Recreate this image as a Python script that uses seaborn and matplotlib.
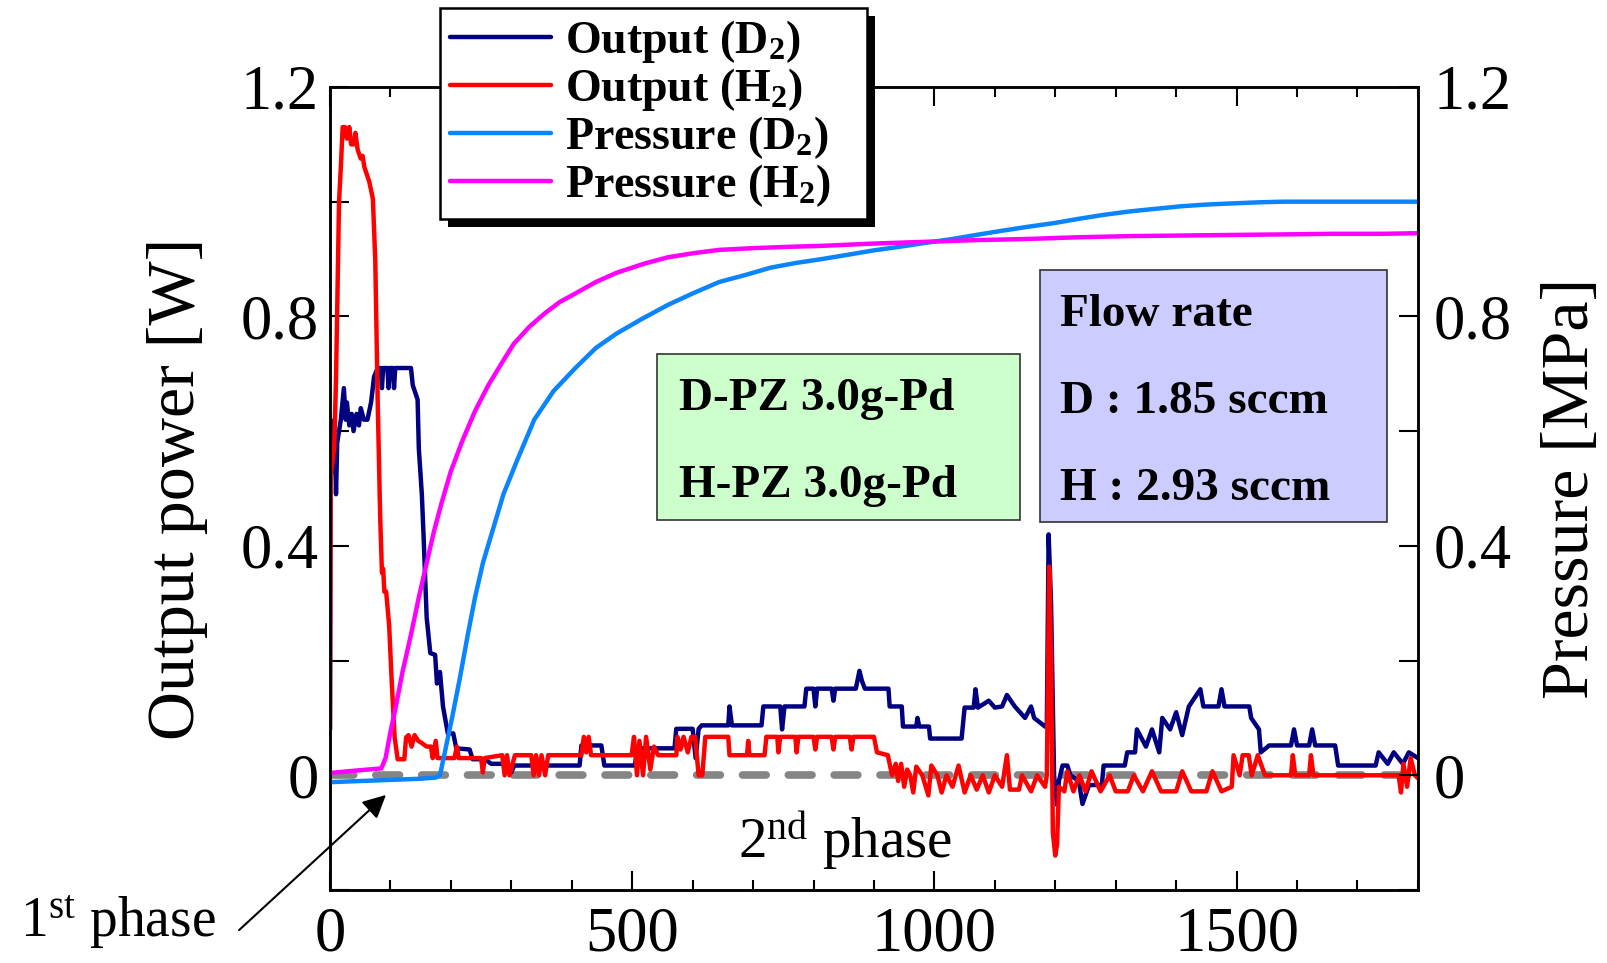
import seaborn as sns
import matplotlib.pyplot as plt
from matplotlib.patches import Rectangle
from matplotlib.transforms import IdentityTransform

# ---- data ----
# output power, D2 run
t_out_d2 = [0, 1, 4, 6, 8, 10, 12, 15, 18, 23, 26, 28, 32, 36, 39, 44, 48, 51, 56, 62, 66, 68, 73, 79, 84, 86, 88,
            95, 97, 99, 104, 106, 108, 134, 137, 145, 147, 152, 155, 160, 166, 174, 177, 182, 187, 195, 204, 209,
            231, 236, 256, 267, 285, 300, 305, 413, 416, 449, 454, 504, 510, 570, 573, 600, 605, 610, 615, 659, 661,
            665, 714, 717, 745, 748, 752, 785, 788, 800, 803, 806, 830, 833, 836, 870, 876, 880, 885, 924, 926, 946,
            948, 970, 972, 975, 991, 993, 1045, 1050, 1065, 1068, 1072, 1090, 1100, 1112, 1120, 1133, 1150, 1160,
            1165, 1183, 1186, 1189, 1193, 1198, 1203, 1206, 1212, 1220, 1225, 1239, 1245, 1256, 1277, 1280, 1315,
            1319, 1332, 1335, 1350, 1360, 1372, 1377, 1390, 1400, 1410, 1421, 1440, 1445, 1470, 1475, 1480, 1521,
            1524, 1537, 1540, 1554, 1590, 1595, 1600, 1620, 1625, 1630, 1663, 1668, 1730, 1735, 1750, 1760, 1775,
            1785, 1800]
p_out_d2 = [0.08, 0.62, 0.60, 0.53, 0.58, 0.49, 0.58, 0.60, 0.62, 0.675, 0.62, 0.65, 0.61, 0.63, 0.60, 0.63, 0.61,
            0.64, 0.62, 0.62, 0.64, 0.65, 0.695, 0.71, 0.71, 0.675, 0.71, 0.71, 0.675, 0.71, 0.71, 0.675, 0.71, 0.71,
            0.68, 0.655, 0.57, 0.49, 0.414, 0.275, 0.213, 0.21, 0.16, 0.18, 0.12, 0.073, 0.073, 0.047, 0.045, 0.028,
            0.028, 0.02, 0.02, 0.005, 0.017, 0.017, 0.052, 0.052, 0.017, 0.017, 0.047, 0.047, 0.081, 0.081, 0.03,
            0.081, 0.087, 0.087, 0.12, 0.087, 0.087, 0.12, 0.12, 0.08, 0.12, 0.12, 0.151, 0.151, 0.12, 0.151, 0.151,
            0.13, 0.151, 0.151, 0.182, 0.165, 0.151, 0.151, 0.12, 0.12, 0.085, 0.085, 0.1, 0.085, 0.085, 0.064,
            0.064, 0.118, 0.118, 0.15, 0.118, 0.13, 0.118, 0.12, 0.14, 0.12, 0.10, 0.12, 0.10, 0.085, 0.085, 0.42,
            0.30, 0.0, -0.052, -0.01, 0.017, 0.017, 0.0, -0.01, -0.05, -0.017, -0.017, 0.017, 0.017, 0.04, 0.04,
            0.08, 0.05, 0.08, 0.04, 0.10, 0.08, 0.11, 0.07, 0.12, 0.15, 0.12, 0.12, 0.15, 0.12, 0.12, 0.10, 0.08,
            0.04, 0.052, 0.052, 0.08, 0.052, 0.052, 0.08, 0.052, 0.052, 0.017, 0.017, 0.04, 0.02, 0.04, 0.02, 0.04,
            0.03]

# output power, H2 run
t_out_h2 = [0, 1, 7, 10, 13, 15, 18, 21, 25, 28, 32, 35, 40, 42, 46, 51, 54, 57, 65, 71, 75, 79, 83, 86, 88, 90, 93,
            98, 102, 107, 112, 123, 126, 130, 135, 140, 146, 151, 160, 167, 170, 175, 178, 206, 210, 213, 250, 253,
            256, 285, 289, 293, 297, 306, 333, 337, 341, 346, 350, 356, 361, 416, 420, 424, 428, 432, 499, 503, 508,
            512, 518, 523, 530, 536, 543, 573, 575, 580, 585, 592, 598, 604, 610, 616, 621, 659, 661, 690, 692, 694,
            719, 722, 740, 742, 745, 770, 772, 775, 800, 803, 806, 830, 833, 836, 860, 863, 866, 900, 905, 923, 930,
            936, 940, 945, 950, 955, 960, 965, 970, 980, 990, 995, 1005, 1012, 1020, 1030, 1040, 1050, 1060, 1070,
            1080, 1090, 1100, 1112, 1120, 1125, 1140, 1145, 1160, 1170, 1183, 1186, 1190, 1193, 1196, 1200, 1203,
            1206, 1215, 1220, 1230, 1240, 1250, 1260, 1275, 1290, 1300, 1320, 1330, 1345, 1360, 1375, 1400, 1410,
            1425, 1450, 1460, 1475, 1492, 1495, 1505, 1510, 1520, 1525, 1535, 1547, 1590, 1593, 1597, 1620, 1623,
            1627, 1668, 1768, 1772, 1776, 1782, 1788, 1795, 1800]
p_out_h2 = [0.08, 0.52, 0.57, 0.69, 0.88, 1.0, 1.06, 1.13, 1.13, 1.11, 1.13, 1.10, 1.10, 1.12, 1.09, 1.075, 1.08,
            1.06, 1.035, 1.005, 0.896, 0.65, 0.454, 0.353, 0.36, 0.32, 0.32, 0.26, 0.167, 0.066, 0.028, 0.028, 0.066,
            0.07, 0.05, 0.07, 0.06, 0.057, 0.05, 0.05, 0.03, 0.06, 0.03, 0.03, 0.05, 0.03, 0.03, 0.005, 0.03, 0.035,
            0.0, 0.035, 0.0, 0.035, 0.035, 0.0, 0.035, 0.0, 0.035, 0.0, 0.035, 0.035, 0.067, 0.04, 0.067, 0.035,
            0.035, 0.067, 0.0, 0.06, 0.0, 0.067, 0.01, 0.05, 0.035, 0.035, 0.067, 0.045, 0.067, 0.04, 0.067, 0.067,
            0.0, 0.0, 0.067, 0.067, 0.035, 0.035, 0.06, 0.035, 0.035, 0.067, 0.067, 0.04, 0.067, 0.067, 0.04, 0.067,
            0.067, 0.045, 0.067, 0.067, 0.045, 0.067, 0.067, 0.045, 0.067, 0.067, 0.04, 0.035, 0.0, 0.02, -0.01,
            0.02, -0.02, 0.01, 0.0, -0.03, 0.015, 0.0, -0.035, 0.017, 0.0, -0.03, 0.0, -0.02, 0.017, -0.03, 0.0,
            -0.025, 0.0, -0.03, 0.0, -0.02, 0.035, -0.025, -0.025, 0.0, -0.028, 0.0, -0.02, 0.0, 0.364, 0.2, -0.1,
            -0.14, -0.12, -0.02, -0.028, 0.007, -0.028, 0.0, -0.028, 0.007, -0.028, 0.0, -0.028, -0.028, 0.0,
            -0.028, 0.007, -0.028, -0.028, 0.007, -0.028, -0.028, 0.007, -0.028, -0.02, 0.035, 0.0, 0.035, 0.035,
            0.0, 0.035, 0.0, 0.0, 0.035, 0.0, 0.0, 0.035, 0.0, 0.0, 0.0, -0.03, 0.02, -0.02, 0.03, 0.0, -0.005]

# pressure, D2 run
t_pr_d2 = [0, 50, 100, 150, 175, 182, 190, 202, 215, 228, 240, 253, 270, 287, 310, 338, 370, 406, 440, 474, 515,
           559, 600, 644, 690, 729, 770, 814, 860, 899, 940, 984, 1030, 1069, 1110, 1153, 1200, 1238, 1280, 1323,
           1370, 1408, 1450, 1493, 1540, 1578, 1620, 1663, 1720, 1800]
pr_d2 = [-0.012, -0.01, -0.008, -0.006, -0.004, 0.0, 0.04, 0.10, 0.17, 0.245, 0.31, 0.37, 0.43, 0.49, 0.55, 0.62,
         0.67, 0.71, 0.745, 0.77, 0.795, 0.82, 0.84, 0.86, 0.873, 0.885, 0.893, 0.90, 0.908, 0.915, 0.921, 0.928,
         0.935, 0.942, 0.949, 0.956, 0.963, 0.97, 0.977, 0.983, 0.988, 0.992, 0.995, 0.997, 0.999, 1.0, 1.0, 1.0,
         1.0, 1.0]

# pressure, H2 run
t_pr_h2 = [0, 40, 85, 92, 100, 109, 120, 134, 147, 160, 172, 185, 200, 219, 240, 262, 285, 304, 330, 355, 380, 406,
           440, 474, 520, 559, 600, 644, 700, 750, 814, 900, 984, 1070, 1153, 1240, 1323, 1410, 1493, 1580, 1660,
           1740, 1800]
pr_h2 = [0.004, 0.008, 0.012, 0.03, 0.075, 0.12, 0.18, 0.245, 0.31, 0.37, 0.425, 0.476, 0.53, 0.583, 0.635, 0.68,
         0.72, 0.752, 0.782, 0.805, 0.825, 0.84, 0.86, 0.876, 0.892, 0.903, 0.91, 0.916, 0.919, 0.921, 0.923,
         0.927, 0.93, 0.933, 0.935, 0.938, 0.94, 0.941, 0.942, 0.943, 0.944, 0.944, 0.945]

xticks = [0, 500, 1000, 1500]
yticks = [0, 0.4, 0.8, 1.2]
ytick_labels = ['0', '0.4', '0.8', '1.2']
series_labels = ['Output (D$_2$)', 'Output (H$_2$)', 'Pressure (D$_2$)', 'Pressure (H$_2$)']
sample_lines = ['D-PZ 3.0g-Pd', 'H-PZ 3.0g-Pd']
flow_lines = ['Flow rate', 'D : 1.85 sccm', 'H : 2.93 sccm']

sns.set_style('ticks')
plt.rcParams['font.family'] = ['Liberation Serif', 'DejaVu Serif']
plt.rcParams['mathtext.fontset'] = 'custom'
plt.rcParams['mathtext.rm'] = 'Liberation Serif'
plt.rcParams['mathtext.default'] = 'regular'
for k in ('text.color', 'axes.labelcolor', 'xtick.color', 'ytick.color'):
    plt.rcParams[k] = 'black'

fig = plt.figure(figsize=(16.08, 9.63), dpi=100)
ax = fig.add_axes([0.2052, 0.0758, 0.6766, 0.8339])
ax2 = ax.twinx()

ax.axhline(0, color='#858585', lw=5.5, dashes=(3.1, 2.9), dash_capstyle='round', zorder=1.5)

line_kw = dict(estimator=None, sort=False, linewidth=3.2)
sns.lineplot(x=t_out_d2, y=p_out_d2, ax=ax, color='#000080', label=series_labels[0], **line_kw)
sns.lineplot(x=t_out_h2, y=p_out_h2, ax=ax, color='#ff0000', label=series_labels[1], **line_kw)
sns.lineplot(x=t_pr_d2, y=pr_d2, ax=ax2, color='#0a84ff', label=series_labels[2], **line_kw)
sns.lineplot(x=t_pr_h2, y=pr_h2, ax=ax2, color='#ff00ff', label=series_labels[3], **line_kw)

handles, labels = [], []
for a in (ax, ax2):
    h, l = a.get_legend_handles_labels()
    handles += h
    labels += l
    if a.get_legend() is not None:
        a.get_legend().remove()

for a in (ax, ax2):
    a.set_xlim(0, 1800)
    a.set_ylim(-0.2, 1.2)
    for s in a.spines.values():
        s.set_linewidth(1.8)
        s.set_color('black')

ax.set_xticks(xticks)
ax.set_xticks(range(0, 1801, 100), minor=True)
ax.set_yticks(yticks, ytick_labels)
ax.set_yticks([-0.2, 0.2, 0.6, 1.0], minor=True)
ax2.set_yticks(yticks, ytick_labels)
ax2.set_yticks([-0.2, 0.2, 0.6, 1.0], minor=True)

ax.tick_params(axis='both', which='both', direction='in', width=1.5, labelsize=45, top=True)
ax.tick_params(axis='y', which='both', length=14, pad=8)
ax.tick_params(axis='x', which='major', length=14, pad=12)
ax.tick_params(axis='x', which='minor', length=7)
ax2.tick_params(axis='y', which='both', direction='in', length=14, width=1.5, labelsize=45, pad=11)

ax.set_xlabel('')
ax.set_ylabel('Output power [W]', fontsize=49)
ax.yaxis.set_label_coords(-0.112, 0.5)
ax2.set_ylabel('Pressure [MPa]', fontsize=49)
ax2.yaxis.set_label_coords(1.113, 0.5)

# info boxes
ax2.add_patch(Rectangle((0.3006, 0.4608), 0.3336, 0.2067, transform=ax2.transAxes,
                        facecolor='#ccffcc', edgecolor='#333333', lw=1.2, zorder=3))
ax2.add_patch(Rectangle((0.6526, 0.4583), 0.3189, 0.3138, transform=ax2.transAxes,
                        facecolor='#ccccff', edgecolor='#333333', lw=1.2, zorder=3))
bold = dict(fontsize=34, fontweight='bold', transform=ax2.transAxes, ha='left', va='baseline', zorder=4)
for txt, yy in zip(sample_lines, [0.598, 0.489]):
    ax2.text(0.3208, yy, txt, **bold)
for txt, yy in zip(flow_lines, [0.702, 0.594, 0.486]):
    ax2.text(0.671, yy, txt, **bold)

# phase notes
ax.text(675, -0.145, '2$^{nd}$ phase', fontsize=41, ha='left', va='baseline')
fig.text(20 / 1608, 1 - 937 / 963, '1$^{st}$ phase', fontsize=40, ha='left', va='baseline')
ax.annotate('', xy=(96, -0.031), xycoords='data',
            xytext=(237 / 1608, 1 - 932 / 963), textcoords='figure fraction',
            arrowprops=dict(arrowstyle='-|>', color='black', lw=1.5, mutation_scale=35),
            annotation_clip=False)

# legend box: 440..867 px wide, top at 8 px
leg = ax2.legend(handles, labels, loc='upper left',
                 bbox_to_anchor=(440 / 1608, 1 - 220 / 963, 427 / 1608, 212 / 963), mode='expand',
                 bbox_transform=fig.transFigure, borderaxespad=0, fancybox=False, framealpha=1,
                 edgecolor='black', prop=dict(family='Liberation Serif', weight='bold', size=33),
                 handlelength=2.2, handletextpad=0.3, borderpad=0.22, labelspacing=0.02)
leg.get_frame().set_linewidth(1.8)
leg.set_zorder(10)

fig.canvas.draw()
bb = leg.get_frame().get_window_extent()
ax2.add_artist(Rectangle((bb.x0 + 8, bb.y0 - 8), bb.width, bb.height, transform=IdentityTransform(),
                         facecolor='black', edgecolor='none', zorder=9.9, clip_on=False))

fig.savefig('out.png', dpi=100)
